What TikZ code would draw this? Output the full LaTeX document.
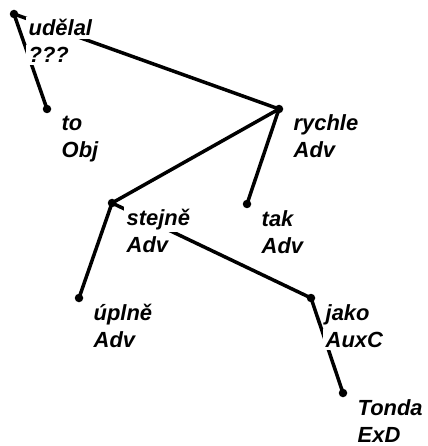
\documentclass[tikz,border=0pt]{standalone}
\usepackage{fontspec}
\setsansfont{Liberation Sans}
\usetikzlibrary{positioning}

\tikzset{
  dot/.style={circle,fill=black,inner sep=0pt,minimum size=8.5bp},
  edge/.style={line width=3.5bp},
  lbl/.style={fill=white,inner sep=2.5bp,anchor=base west,
    font=\sffamily\bfseries\itshape\fontsize{22}{26}\selectfont},
}

\begin{document}
\begin{tikzpicture}[x=1bp,y=-1bp]
  \fill[white] (0,0) rectangle (427,446);
  \useasboundingbox (0,0) rectangle (427,446);
  % tree nodes
  \foreach \n/\x/\y in {udelal/14/14, to/47/109, rychle/279/109, tak/247/204,
                        stejne/112/203, uplne/79/298, jako/311/298, tonda/343/393}
    \node[dot] (\n) at (\x,\y) {};
  % dependencies
  \foreach \a/\b in {udelal/to, udelal/rychle, rychle/stejne, rychle/tak,
                     stejne/uplne, stejne/jako, jako/tonda}
    \draw[edge] (\a.center) -- (\b.center);
  % word and afun labels
  \foreach \n/\w/\t in {udelal/udělal/???, to/to/Obj, rychle/rychle/Adv, tak/tak/Adv,
                        stejne/stejně/Adv, uplne/úplně/Adv, jako/jako/AuxC, tonda/Tonda/ExD} {
    \node[lbl] (\n-w) at ([shift={(12,22)}]\n.center) {\w};
    \node[lbl] (\n-t) at ([shift={(0,27)}]\n-w.base west) {\t};
  }
\end{tikzpicture}
\end{document}
